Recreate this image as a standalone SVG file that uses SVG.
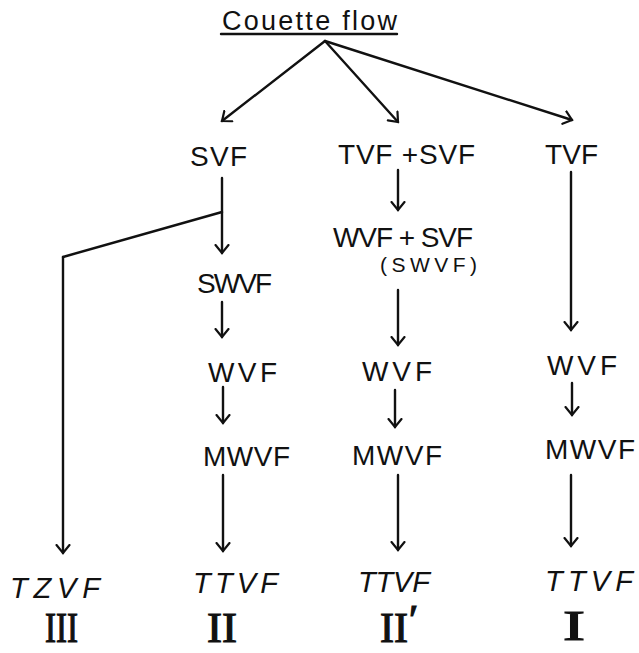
<svg xmlns="http://www.w3.org/2000/svg" width="639" height="653" viewBox="0 0 639 653">
  <style>
    .lbl { font-family: "Liberation Sans", "DejaVu Sans", sans-serif; font-size: 28px; fill: #111; }
    .it { font-style: italic; font-size: 29px; }
    .sm { font-size: 21px; }
    .num { font-family: "Liberation Serif", "DejaVu Serif", serif; font-size: 42px; fill: #111; stroke: #111; stroke-width: 1.2; }
    .ttl { font-family: "Liberation Sans", "DejaVu Sans", sans-serif; font-size: 27px; fill: #111; }
    .ln { stroke: #111; stroke-width: 2.4; fill: none; stroke-linecap: round; }
    .arr { stroke: #111; stroke-width: 2.4; fill: none; stroke-linecap: round; marker-end: url(#hd); }
  </style>
  <defs>
    <marker id="hd" viewBox="-9 -8 11 16" refX="0" refY="0" markerWidth="11" markerHeight="16" markerUnits="userSpaceOnUse" orient="auto">
      <path d="M-8,-6.5 L0,0 L-8,6.5" stroke="#111" stroke-width="2.2" fill="none" stroke-linecap="round"/>
    </marker>
  </defs>
  <rect width="639" height="653" fill="#fff"/>

  <!-- connectors -->
  <g id="connectors">
    <path class="ln" d="M221,34 L397,34"/>
    <path class="arr" d="M325,41 L222,121"/>
    <path class="arr" d="M325,41 L398,122"/>
    <path class="arr" d="M325,41 L572,120"/>
    <!-- SVF column -->
    <path class="arr" d="M222,178 L222,253"/>
    <path class="ln" d="M222,212 L63,257"/>
    <path class="arr" d="M63,257 L63,553"/>
    <path class="arr" d="M222,302 L222,337"/>
    <path class="arr" d="M223,387 L223,423"/>
    <path class="arr" d="M223,475 L223,551"/>
    <!-- TVF+SVF column -->
    <path class="arr" d="M398,170 L398,210"/>
    <path class="arr" d="M398,290 L398,345"/>
    <path class="arr" d="M395,390 L395,427"/>
    <path class="arr" d="M398,475 L398,550"/>
    <!-- TVF column -->
    <path class="arr" d="M571,172 L571,330"/>
    <path class="arr" d="M572,383 L572,415"/>
    <path class="arr" d="M571,475 L571,546"/>
  </g>

  <g id="title"><text class="ttl" x="222" y="30" textLength="175" lengthAdjust="spacing">Couette flow</text></g>

  <g id="svf"><text class="lbl" x="190" y="166" textLength="57" lengthAdjust="spacing">SVF</text></g>
  <g id="tvf-svf"><text class="lbl" x="338" y="164" textLength="137" lengthAdjust="spacing">TVF +SVF</text></g>
  <g id="tvf"><text class="lbl" x="545" y="164" textLength="53" lengthAdjust="spacing">TVF</text></g>

  <g id="swvf"><text class="lbl" x="197" y="293" textLength="75" lengthAdjust="spacing" font-size="23">SWVF</text></g>
  <g id="wvf-svf">
    <text class="lbl" x="333" y="247" textLength="140" lengthAdjust="spacing" font-size="25">WVF + SVF</text>
    <text class="lbl sm" x="380" y="272" textLength="97" lengthAdjust="spacing">(SWVF)</text>
  </g>

  <g id="wvf-2"><text class="lbl" x="208" y="382" textLength="69" lengthAdjust="spacing">WVF</text></g>
  <g id="wvf-2p"><text class="lbl" x="362" y="381" textLength="70" lengthAdjust="spacing">WVF</text></g>
  <g id="wvf-1"><text class="lbl" x="547" y="375" textLength="70" lengthAdjust="spacing">WVF</text></g>

  <g id="mwvf-2"><text class="lbl" x="203" y="466" textLength="87" lengthAdjust="spacing">MWVF</text></g>
  <g id="mwvf-2p"><text class="lbl" x="352" y="465" textLength="90" lengthAdjust="spacing">MWVF</text></g>
  <g id="mwvf-1"><text class="lbl" x="545" y="459" textLength="90" lengthAdjust="spacing">MWVF</text></g>

  <g id="tzvf-3">
    <text class="lbl it" x="10" y="598" textLength="90" lengthAdjust="spacing">TZVF</text>
    <text class="num" x="45" y="642" textLength="33" lengthAdjust="spacingAndGlyphs">III</text>
  </g>
  <g id="ttvf-2">
    <text class="lbl it" x="193" y="593" textLength="85" lengthAdjust="spacing">TTVF</text>
    <text class="num" x="207" y="642" textLength="30" lengthAdjust="spacingAndGlyphs">II</text>
  </g>
  <g id="ttvf-2p">
    <text class="lbl it" x="358" y="592" textLength="72" lengthAdjust="spacing" font-size="26">TTVF</text>
    <text class="num" x="380" y="642" textLength="28" lengthAdjust="spacingAndGlyphs">II</text>
    <text class="num" x="409" y="634" font-size="24" stroke-width="0.6">′</text>
  </g>
  <g id="ttvf-1">
    <text class="lbl it" x="545" y="591" textLength="88" lengthAdjust="spacing">TTVF</text>
    <text class="num" x="563" y="640" textLength="22" lengthAdjust="spacingAndGlyphs">I</text>
  </g>
</svg>
